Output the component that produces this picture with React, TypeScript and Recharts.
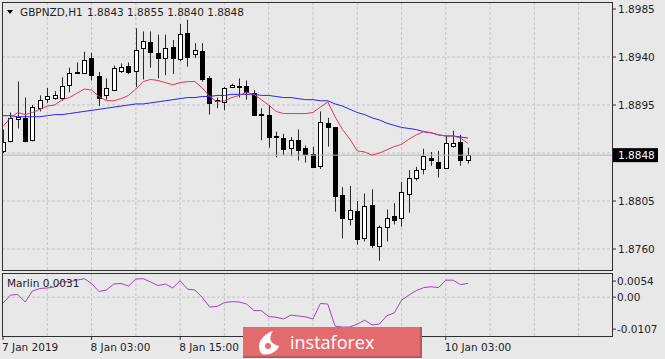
import {
  Bar,
  CartesianGrid,
  ComposedChart,
  Line,
  LineChart,
  ReferenceLine,
  XAxis,
  YAxis,
} from 'recharts';

// GBPNZD H1, one row per hourly bar from 7 Jan 15:00 to 10 Jan 06:00
const OPEN = [
  1.8852, 1.8861, 1.8882, 1.8883, 1.8862, 1.8892, 1.8901, 1.8902, 1.8902, 1.8914,
  1.8926, 1.8925, 1.8939, 1.8922, 1.8904, 1.8909, 1.8927, 1.8932, 1.8927, 1.8948,
  1.8954, 1.8944, 1.8939, 1.8949, 1.8938, 1.8963, 1.8943, 1.8946, 1.892, 1.89,
  1.8898, 1.8912, 1.8913, 1.8913, 1.8906, 1.8887, 1.8886, 1.8866, 1.8864, 1.8855,
  1.8862, 1.8855, 1.8849, 1.8838, 1.8878, 1.8874, 1.8811, 1.8788, 1.8796, 1.877,
  1.8801, 1.8763, 1.8781, 1.8791, 1.8789, 1.8812, 1.8827, 1.8835, 1.8845, 1.8842,
  1.8836, 1.8857, 1.886, 1.8843,
];
const HIGH = [
  1.8872, 1.8888, 1.8917, 1.8902, 1.8895, 1.8904, 1.8911, 1.8908, 1.8921, 1.893,
  1.8935, 1.8945, 1.8944, 1.8926, 1.892, 1.8932, 1.8934, 1.8935, 1.8967, 1.8964,
  1.8964, 1.8961, 1.8961, 1.8956, 1.8971, 1.8975, 1.8953, 1.8953, 1.8922, 1.8902,
  1.8912, 1.8915, 1.892, 1.8918, 1.8909, 1.8892, 1.8895, 1.887, 1.8868, 1.8865,
  1.8872, 1.8857, 1.8856, 1.8889, 1.8883, 1.8874, 1.8818, 1.8819, 1.8805, 1.8812,
  1.8816, 1.8782, 1.8797, 1.8803, 1.8823, 1.8834, 1.8837, 1.8854, 1.8851, 1.8852,
  1.8866, 1.8871, 1.8867, 1.8855,
];
const LOW = [
  1.885, 1.886, 1.8873, 1.886, 1.8861, 1.8889, 1.8897, 1.89, 1.8899, 1.8907,
  1.8924, 1.8924, 1.8918, 1.8894, 1.89, 1.8908, 1.8925, 1.8924, 1.8912, 1.8919,
  1.893, 1.892, 1.8923, 1.8924, 1.8936, 1.8931, 1.8939, 1.8917, 1.8886, 1.8892,
  1.889, 1.8911, 1.8902, 1.89, 1.8885, 1.8862, 1.8855, 1.8846, 1.8848, 1.8847,
  1.8843, 1.8841, 1.8836, 1.8835, 1.8856, 1.8795, 1.877, 1.8782, 1.8764, 1.8767,
  1.8761, 1.8749, 1.8767, 1.8783, 1.8781, 1.8794, 1.8824, 1.883, 1.8838, 1.8827,
  1.8835, 1.8855, 1.8838, 1.884,
];
const CLOSE = [
  1.886, 1.8883, 1.8884, 1.8861, 1.8893, 1.89, 1.8903, 1.8904, 1.8913, 1.8925,
  1.8925, 1.8937, 1.8923, 1.8902, 1.8911, 1.893, 1.8931, 1.8926, 1.8947, 1.8955,
  1.8945, 1.8939, 1.8948, 1.8939, 1.8962, 1.894, 1.8947, 1.8919, 1.8897, 1.8899,
  1.8911, 1.8914, 1.8912, 1.8907, 1.8886, 1.8886, 1.8865, 1.8865, 1.8854, 1.8862,
  1.8853, 1.8849, 1.8837, 1.8879, 1.8874, 1.881, 1.8789, 1.8797, 1.8769, 1.88,
  1.8764, 1.8781, 1.8789, 1.8787, 1.8813, 1.8827, 1.8834, 1.8847, 1.8843, 1.8836,
  1.8859, 1.8859, 1.8843, 1.8848,
];
// red (fast) and blue (slow) moving averages
const MA_FAST = [
  1.8875, 1.8883, 1.8888, 1.8886, 1.8888, 1.8891, 1.8894, 1.8895, 1.89, 1.8902,
  1.8906, 1.891, 1.8909, 1.8903, 1.8899, 1.8899, 1.8901, 1.8904, 1.891, 1.8917,
  1.8919, 1.8918, 1.8916, 1.8914, 1.8916, 1.8917, 1.8917, 1.8911, 1.8903, 1.8898,
  1.8899, 1.8902, 1.8904, 1.8907, 1.8905, 1.89, 1.8895, 1.8889, 1.8887, 1.8887,
  1.8887, 1.8887, 1.8888, 1.8893, 1.8898, 1.8884, 1.8872, 1.8863, 1.8852, 1.8851,
  1.8848, 1.885, 1.8853, 1.8856, 1.8858, 1.8863, 1.8867, 1.887, 1.8869, 1.8867,
  1.8866, 1.8866, 1.8864, 1.8859,
];
const MA_SLOW = [
  1.8885, 1.8885, 1.8884, 1.8884, 1.8884, 1.8884, 1.8885, 1.8886, 1.8886, 1.8887,
  1.8888, 1.8889, 1.889, 1.8891, 1.8892, 1.8893, 1.8894, 1.8895, 1.8896, 1.8896,
  1.8897, 1.8898, 1.8899, 1.89, 1.8901, 1.8902, 1.8902, 1.8903, 1.8903, 1.8904,
  1.8904, 1.8905, 1.8905, 1.8905, 1.8905, 1.8904, 1.8904, 1.8903, 1.8902, 1.8902,
  1.8901, 1.89, 1.89, 1.8899, 1.8899, 1.8896, 1.8894, 1.8891, 1.8888, 1.8886,
  1.8883, 1.8881, 1.8878, 1.8876, 1.8874, 1.8873, 1.8872, 1.887, 1.8869, 1.8867,
  1.8866, 1.8866, 1.8865, 1.8864,
];
const MARLIN = [
  -0.002, 0.0007, 0.0009, -0.0016, 0.0021, 0.0029, 0.0031, 0.0034, 0.0052, 0.0051,
  0.0057, 0.0062, 0.0046, 0.0019, 0.0024, 0.0044, 0.0046, 0.0037, 0.0061, 0.0062,
  0.0051, 0.0039, 0.0044, 0.0031, 0.0055, 0.0027, 0.0024, -0.0001, -0.0033, -0.0031,
  -0.0018, -0.0015, -0.0016, -0.0023, -0.0045, -0.0045, -0.0065, -0.0067, -0.0073, -0.006,
  -0.0063, -0.0066, -0.0073, -0.0021, -0.0023, -0.0097, -0.01, -0.01, -0.009, -0.0077,
  -0.0093, -0.009, -0.0062, -0.0053, -0.001, 0.0007, 0.0022, 0.0032, 0.0035, 0.0032,
  0.0057, 0.0057, 0.0042, 0.0046,
];

const SYMBOL = 'GBPNZD,H1';
const MARLIN_LABEL = 'Marlin 0.0031';
// labels for 9 Jan sit under the badge in the reference, so only the visible ones are listed
const TIME_TICKS = [0, 12, 24, 60];
const TIME_LABELS = ['7 Jan 2019', '8 Jan 03:00', '8 Jan 15:00', '10 Jan 03:00'];
const GRID_BARS = [6, 12, 18, 24, 30, 36, 42, 48, 54, 60, 66, 72, 78];
const PRICE_TICKS = [1.876, 1.8805, 1.8895, 1.894, 1.8985];
const PRICE_GRID = [1.876, 1.8805, 1.885, 1.8895, 1.894];
const MARLIN_TICKS = [-0.0107, 0, 0.0054];

const X_DOMAIN = [-0.14, 82.52];
const PRICE_DOMAIN = [1.87403, 1.89916];
const MARLIN_DOMAIN = [-0.013, 0.0081];

const FONT = 'DejaVu Sans';
const INK = '#1e1e1e';
const GRID = '#c4c4c4';

const last = OPEN.length - 1;

const candles = OPEN.map((open, i) => ({
  bar: i,
  open,
  high: HIGH[i],
  low: LOW[i],
  close: CLOSE[i],
  range: [LOW[i], HIGH[i]],
  fast: MA_FAST[i],
  slow: MA_SLOW[i],
}));

const marlinRows = MARLIN.map((value, i) => ({ bar: i, value }));

function Candle(props: any) {
  const { x, y, width, height, payload } = props;
  if (x == null || y == null) return null;
  const { open, high, low, close } = payload;
  const c = Math.round(x + width / 2);
  const k = high > low ? height / (high - low) : 0;
  const at = (v: number) => y + (high - v) * k;
  const top = Math.round(at(Math.max(open, close)));
  const bottom = Math.round(at(Math.min(open, close)));
  const up = close > open;
  return (
    <g>
      <line x1={c + 0.5} x2={c + 0.5} y1={y} y2={y + height} stroke="#2a2a2a" />
      <rect
        x={c - 1.5}
        y={top + 0.5}
        width={4}
        height={Math.max(bottom - top, 1)}
        fill={up ? '#ffffff' : '#000000'}
        stroke="#000000"
      />
    </g>
  );
}

function PriceTag(props: any) {
  const { viewBox } = props;
  if (!viewBox) return null;
  const x = viewBox.x + viewBox.width + 1;
  const y = viewBox.y;
  return (
    <g>
      <rect x={x} y={y - 7} width={45} height={14} fill="#000" />
      <text x={x + 5} y={y + 4} fill="#fff" fontSize={10.5} fontFamily={FONT}>
        {CLOSE[last].toFixed(4)}
      </text>
    </g>
  );
}

function TimeTick(props: any) {
  const { x, y, payload } = props;
  const label = TIME_LABELS[TIME_TICKS.indexOf(payload.value)] ?? '';
  return (
    <text x={x - 1} y={y + 9} fill={INK} fontSize={10.5} fontFamily={FONT} textAnchor="start">
      {label}
    </text>
  );
}

const axisTick = { fill: INK, fontSize: 10.5, fontFamily: FONT };

export default function App() {
  const ohlc = [OPEN[last], HIGH[last], LOW[last], CLOSE[last]].map((v) => v.toFixed(4)).join(' ');

  return (
    <div
      style={{
        position: 'absolute',
        left: 0,
        top: 0,
        width: 665,
        height: 359,
        background: '#e8e8e8',
        overflow: 'hidden',
        fontFamily: FONT,
      }}
    >
      <div style={{ position: 'absolute', left: 0, top: 0 }}>
        <ComposedChart width={665} height={272} data={candles} margin={{ top: 2, right: 0, bottom: 2, left: 2 }}>
          <CartesianGrid stroke={GRID} strokeDasharray="3 2" horizontalValues={PRICE_GRID} verticalValues={GRID_BARS} />
          <XAxis dataKey="bar" type="number" domain={X_DOMAIN} allowDataOverflow hide />
          <YAxis
            orientation="right"
            width={53}
            domain={PRICE_DOMAIN}
            allowDataOverflow
            ticks={PRICE_TICKS}
            interval={0}
            tickSize={4}
            tickMargin={2}
            axisLine={false}
            tickLine={{ stroke: '#333' }}
            tick={axisTick}
            tickFormatter={(v: number) => v.toFixed(4)}
          />
          <ReferenceLine y={CLOSE[last]} stroke="#b4b4b4" label={<PriceTag />} />
          <Bar dataKey="range" barSize={5} shape={<Candle />} isAnimationActive={false} />
          <Line dataKey="slow" stroke="#2626ee" strokeWidth={1} dot={false} isAnimationActive={false} />
          <Line dataKey="fast" stroke="#e2365a" strokeWidth={1} dot={false} isAnimationActive={false} />
        </ComposedChart>
      </div>

      <div style={{ position: 'absolute', left: 0, top: 271 }}>
        <LineChart width={665} height={88} data={marlinRows} margin={{ top: 2, right: 0, bottom: 0, left: 2 }}>
          <CartesianGrid stroke={GRID} strokeDasharray="3 2" horizontalValues={[0]} verticalValues={GRID_BARS} />
          <XAxis
            dataKey="bar"
            type="number"
            domain={X_DOMAIN}
            allowDataOverflow
            ticks={TIME_TICKS}
            interval={0}
            height={23}
            tickSize={4}
            tickMargin={2}
            axisLine={false}
            tickLine={{ stroke: '#333' }}
            tick={<TimeTick />}
          />
          <YAxis
            orientation="right"
            width={53}
            domain={MARLIN_DOMAIN}
            allowDataOverflow
            ticks={MARLIN_TICKS}
            interval={0}
            tickSize={4}
            tickMargin={1}
            axisLine={false}
            tickLine={{ stroke: '#333' }}
            tick={axisTick}
            tickFormatter={(v: number) => (v === 0 ? '0.00' : v.toFixed(4))}
          />
          <Line dataKey="value" stroke="#a443b8" strokeWidth={1} dot={false} isAnimationActive={false} />
        </LineChart>
      </div>

      {/* panel frames */}
      <div style={{ position: 'absolute', left: 2, top: 2, width: 611, height: 269, boxSizing: 'border-box', border: '1px solid #303030' }} />
      <div style={{ position: 'absolute', left: 2, top: 273, width: 611, height: 64, boxSizing: 'border-box', border: '1px solid #303030' }} />

      <svg width={665} height={359} style={{ position: 'absolute', left: 0, top: 0 }}>
        <polygon points="7,10 13,10 10,14" fill="#000" />
        <text x={20} y={16} fill={INK} fontSize={10.5} fontFamily={FONT}>
          {SYMBOL}
        </text>
        <text x={87} y={16} fill={INK} fontSize={10.5} fontFamily={FONT} xmlSpace="preserve">
          {ohlc}
        </text>
        <text x={7} y={287} fill={INK} fontSize={10.5} fontFamily={FONT}>
          {MARLIN_LABEL}
        </text>

        {/* instaforex badge */}
        <rect x={243} y={327} width={179} height={31} fill="#e46b6d" />
        <rect x={420} y={327} width={2} height={31} fill="#b9595b" />
        <rect x={243} y={356} width={179} height={2} fill="#b9595b" />
        <path
          d="M262 354 C255 346 261 335 273 331 C268 338 270 344 279 346 C277 352 269 356 262 354 Z"
          fill="#fff"
        />
        <circle cx={268} cy={346} r={3} fill="#e46b6d" />
        <text x={290} y={349} fill="#fff" fontSize={18} fontFamily="Open Sans">
          instaforex
        </text>
      </svg>
    </div>
  );
}
